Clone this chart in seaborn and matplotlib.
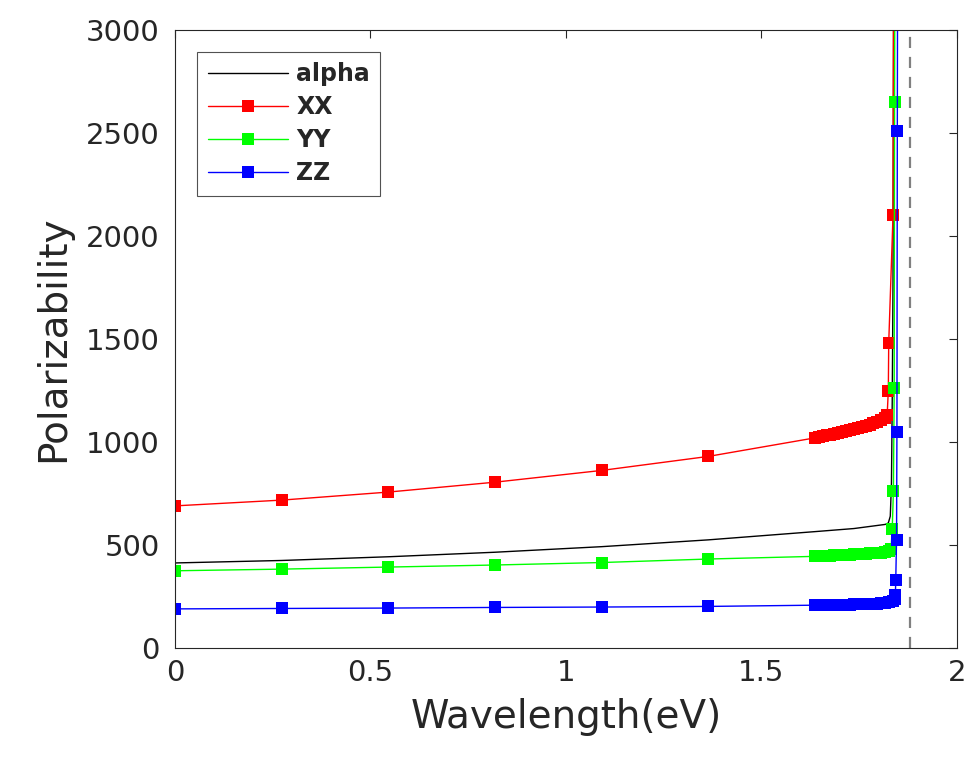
import matplotlib
matplotlib.use("Agg")
import matplotlib.pyplot as plt
import seaborn as sns
import numpy as np

# ---------------- data ----------------
x_xx = [0.0, 0.2727, 0.5455, 0.8182, 1.0909, 1.3636,
        1.6364, 1.6464, 1.6564, 1.6664, 1.6764, 1.6864, 1.6964, 1.7064, 1.7164, 1.7264,
        1.7364, 1.7464, 1.7564, 1.7664, 1.7764, 1.7864, 1.7964, 1.8064, 1.8164, 1.8214,
        1.8244, 1.8254, 1.8364, 1.8384]
y_xx = [690, 718, 757, 805, 862, 930,
        1020, 1024, 1028, 1032, 1036, 1040, 1044, 1048, 1053, 1058,
        1063, 1068, 1073, 1078, 1084, 1090, 1097, 1105, 1115, 1130,
        1250, 1480, 2100, 3600]

x_yy = [0.0, 0.2727, 0.5455, 0.8182, 1.0909, 1.3636,
        1.6364, 1.6464, 1.6564, 1.6664, 1.6764, 1.6864, 1.6964, 1.7064, 1.7164, 1.7264,
        1.7364, 1.7464, 1.7564, 1.7664, 1.7764, 1.7864, 1.7964, 1.8064, 1.8164, 1.8264,
        1.8314, 1.8344, 1.8374, 1.8394, 1.8404, 1.8414]
y_yy = [375, 383, 393, 403, 415, 432,
        445, 446, 447, 448, 449, 450, 451, 452, 453, 454,
        455, 456, 457, 458, 459, 460, 461, 463, 465, 470,
        480, 580, 760, 1260, 2650, 3600]

x_zz = [0.0, 0.2727, 0.5455, 0.8182, 1.0909, 1.3636,
        1.6364, 1.6464, 1.6564, 1.6664, 1.6764, 1.6864, 1.6964, 1.7064, 1.7164, 1.7264,
        1.7364, 1.7464, 1.7564, 1.7664, 1.7764, 1.7864, 1.7964, 1.8064, 1.8164, 1.8264,
        1.8364, 1.8404, 1.8424, 1.8434, 1.8454, 1.8464, 1.8474, 1.8484]
y_zz = [190, 192, 194, 197, 199, 202,
        208, 208, 209, 209, 210, 210, 210, 211, 211, 211,
        212, 212, 213, 213, 214, 215, 216, 217, 219, 222,
        228, 240, 255, 330, 525, 1050, 2510, 3600]

x_alpha = [0.0, 0.2727, 0.5455, 0.8182, 1.0909, 1.3636, 1.6364, 1.7364, 1.8164,
           1.8244, 1.8294, 1.8324, 1.8344, 1.8364, 1.8384]
y_alpha = [413, 425, 443, 465, 492, 525, 565, 580, 600,
           607, 640, 800, 1200, 1780, 3600]

pole_x = 1.88
x_ticks = [0, 0.5, 1, 1.5, 2]
x_ticklabels = ["0", "0.5", "1", "1.5", "2"]
y_ticks = [0, 500, 1000, 1500, 2000, 2500, 3000]
y_ticklabels = ["0", "500", "1000", "1500", "2000", "2500", "3000"]

series = [
    ("alpha", x_alpha, y_alpha, "black", None),
    ("XX", x_xx, y_xx, "#ff0000", "s"),
    ("YY", x_yy, y_yy, "#00ff00", "s"),
    ("ZZ", x_zz, y_zz, "#0000ff", "s"),
]

# ---------------- plot ----------------
sns.set_style("white")
plt.rcParams["font.family"] = ["DejaVu Sans"]

fig = plt.figure(figsize=(9.69, 7.59), dpi=100)
ax = fig.add_axes([0.1806, 0.1462, 0.9876 - 0.1806, 0.9605 - 0.1462])

for name, xs, ys, col, mk in series:
    kw = dict(x=xs, y=ys, color=col, ax=ax, label=name, linewidth=1.0, sort=False)
    if mk:
        kw.update(marker=mk, markersize=8, markeredgewidth=0)
    sns.lineplot(**kw)

ax.axvline(pole_x, color="#808080", linestyle=(0, (5, 4)), linewidth=1.6, zorder=0)

ax.set_xlim(0, 2)
ax.set_ylim(0, 3000)
ax.set_xticks(x_ticks)
ax.set_xticklabels(x_ticklabels)
ax.set_yticks(y_ticks)
ax.set_yticklabels(y_ticklabels)
ax.tick_params(direction="in", length=6, width=0.8, colors="#262626",
               labelsize=21, top=True, right=True)
ax.tick_params(axis="y", pad=11)
ax.tick_params(axis="x", pad=8)
ax.set_xlabel("Wavelength(eV)", fontsize=28, color="#262626", labelpad=8)
ax.set_ylabel("Polarizability", fontsize=28, color="#262626", labelpad=10)
for s in ax.spines.values():
    s.set_color("#262626")
    s.set_linewidth(0.8)

leg = ax.legend(loc="upper left", bbox_to_anchor=(0.028, 0.965),
                prop={"weight": "bold", "size": 17}, frameon=True, fancybox=False,
                edgecolor="#262626", handlelength=3.4, handletextpad=0.35,
                labelspacing=0.38, borderpad=0.45, borderaxespad=0)
leg.get_frame().set_linewidth(0.8)
for t in leg.get_texts():
    t.set_color("#262626")

fig.savefig("out.png", dpi=100)
